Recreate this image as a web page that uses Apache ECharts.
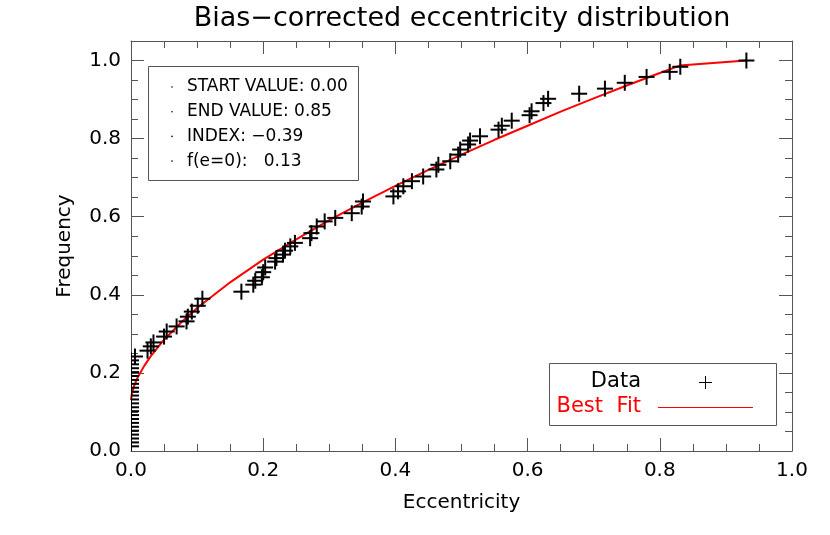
<!DOCTYPE html>
<html>
<head>
<meta charset="utf-8">
<script src="https://cdn.jsdelivr.net/npm/echarts@6/dist/echarts.min.js"></script>
<style>
  html, body { margin: 0; padding: 0; background: #fff; }
  #chart { width: 830px; height: 535px; }
</style>
</head>
<body>
<div id="chart"></div>
<script>
// crosses sitting on e = 0 (cumulative frequency values)
const zeroStackF = [0.012, 0.022, 0.032, 0.042, 0.052, 0.062, 0.072, 0.082, 0.092, 0.102,
  0.112, 0.122, 0.132, 0.142, 0.152, 0.162, 0.172, 0.182, 0.192, 0.202, 0.212, 0.222, 0.232];

// remaining observed points
const dataE = [0.006, 0.025, 0.030, 0.034, 0.050, 0.054, 0.069, 0.084, 0.086, 0.092, 0.101, 0.108,
  0.167, 0.185, 0.188, 0.198, 0.200, 0.203, 0.218, 0.220, 0.230, 0.233, 0.241, 0.248,
  0.271, 0.273, 0.281, 0.293, 0.309, 0.334, 0.349, 0.351, 0.397, 0.404, 0.412, 0.425,
  0.442, 0.462, 0.465, 0.483, 0.495, 0.498, 0.510, 0.513, 0.528, 0.556, 0.561, 0.576,
  0.603, 0.606, 0.624, 0.631, 0.678, 0.717, 0.747, 0.780, 0.815, 0.831, 0.931];
const dataF = [0.242, 0.257, 0.268, 0.278, 0.293, 0.306, 0.319, 0.332, 0.344, 0.357, 0.372, 0.390,
  0.408, 0.426, 0.436, 0.445, 0.458, 0.470, 0.485, 0.494, 0.503, 0.513, 0.524, 0.533,
  0.545, 0.558, 0.575, 0.588, 0.597, 0.609, 0.626, 0.639, 0.652, 0.665, 0.678, 0.691,
  0.703, 0.721, 0.733, 0.742, 0.759, 0.772, 0.785, 0.795, 0.806, 0.823, 0.833, 0.846,
  0.860, 0.870, 0.891, 0.902, 0.915, 0.928, 0.943, 0.958, 0.971, 0.984, 1.0];

// best-fit curve
const fitE = [0, 0.001, 0.0025, 0.005, 0.01, 0.02, 0.03, 0.05, 0.075, 0.1, 0.15, 0.2, 0.25, 0.3,
  0.35, 0.4, 0.45, 0.5, 0.55, 0.6, 0.65, 0.7, 0.75, 0.8, 0.83, 0.931];
const fitF = [0.13, 0.144, 0.155, 0.168, 0.188, 0.218, 0.243, 0.285, 0.328, 0.366, 0.432, 0.49, 0.542, 0.591,
  0.636, 0.679, 0.72, 0.759, 0.797, 0.833, 0.869, 0.903, 0.936, 0.968, 0.987, 1.0];

const statLines = ['START VALUE: 0.00', 'END VALUE: 0.85', 'INDEX: \u22120.39', 'f(e=0):   0.13'];

const FONT = 'DejaVu Sans';
const AXIS_COLOR = '#555';

const points = zeroStackF.map(f => [0, f]).concat(dataE.map((e, i) => [e, dataF[i]]));
const fitData = fitE.map((e, i) => [e, fitF[i]]);

const chart = echarts.init(document.getElementById('chart'), null, { renderer: 'canvas' });

const baseAxis = {
  min: 0,
  interval: 0.2,
  axisLine: { show: true, onZero: false, lineStyle: { color: AXIS_COLOR, width: 1 } },
  axisTick: { show: true, inside: true, length: 13, lineStyle: { color: AXIS_COLOR } },
  minorTick: { show: true, splitNumber: 4, length: 7, lineStyle: { color: AXIS_COLOR } },
  splitLine: { show: false },
  axisLabel: {
    color: '#000', fontFamily: FONT, fontSize: 20, margin: 10,
    formatter: v => v.toFixed(1)
  },
  nameTextStyle: { color: '#000', fontFamily: FONT, fontSize: 20 }
};

const crossItem = (params, api) => {
  const p = api.coord([api.value(0), api.value(1)]);
  const h = 8;
  const style = { stroke: '#000', lineWidth: 2 };
  return {
    type: 'group',
    children: [
      { type: 'line', shape: { x1: p[0] - h, y1: p[1], x2: p[0] + h, y2: p[1] }, style },
      { type: 'line', shape: { x1: p[0], y1: p[1] - h, x2: p[0], y2: p[1] + h }, style }
    ]
  };
};

const graphics = [
  {
    type: 'text', x: 462, y: 19,
    style: {
      text: 'Bias\u2212corrected eccentricity distribution', fill: '#000',
      font: '27px "DejaVu Sans"', textAlign: 'center', textVerticalAlign: 'middle'
    }
  },
  // stats box
  {
    type: 'rect', shape: { x: 148.5, y: 66.5, width: 210, height: 114 },
    style: { fill: '#fff', stroke: AXIS_COLOR, lineWidth: 1 }, z: 10
  },
  // legend box
  {
    type: 'rect', shape: { x: 549.5, y: 363.5, width: 227, height: 62 },
    style: { fill: '#fff', stroke: AXIS_COLOR, lineWidth: 1 }, z: 10
  },
  {
    type: 'text', x: 641, y: 382,
    style: { text: 'Data', fill: '#000', font: '21px "DejaVu Sans"', textAlign: 'right', textVerticalAlign: 'middle' },
    z: 11
  },
  {
    type: 'text', x: 641, y: 407,
    style: { text: 'Best  Fit', fill: '#ff0000', font: '21px "DejaVu Sans"', textAlign: 'right', textVerticalAlign: 'middle' },
    z: 11
  },
  { type: 'line', shape: { x1: 699, y1: 382.5, x2: 712, y2: 382.5 }, style: { stroke: '#000', lineWidth: 1 }, z: 11 },
  { type: 'line', shape: { x1: 705.5, y1: 376, x2: 705.5, y2: 389 }, style: { stroke: '#000', lineWidth: 1 }, z: 11 },
  { type: 'line', shape: { x1: 658, y1: 407.5, x2: 753, y2: 407.5 }, style: { stroke: '#ff0000', lineWidth: 1 }, z: 11 }
];

statLines.forEach((t, i) => {
  const y = 87 + i * 24.7;
  graphics.push({
    type: 'circle', shape: { cx: 172, cy: y, r: 0.8 }, style: { fill: '#000' }, z: 11
  });
  graphics.push({
    type: 'text', x: 187, y: y,
    style: { text: t, fill: '#000', font: '17px "DejaVu Sans"', textVerticalAlign: 'middle' },
    z: 11
  });
});

chart.setOption({
  animation: false,
  backgroundColor: '#fff',
  grid: { left: 131, right: 38, top: 41, bottom: 84, containLabel: false },
  xAxis: [
    Object.assign({}, baseAxis, {
      type: 'value', position: 'bottom', max: 1.0,
      name: 'Eccentricity', nameLocation: 'middle', nameGap: 42
    }),
    Object.assign({}, baseAxis, {
      type: 'value', position: 'top', max: 1.0,
      axisLabel: { show: false }
    })
  ],
  yAxis: [
    Object.assign({}, baseAxis, {
      type: 'value', position: 'left', max: 1.05,
      name: 'Frequency', nameLocation: 'middle', nameGap: 56,
      axisLabel: Object.assign({}, baseAxis.axisLabel, { showMaxLabel: false })
    }),
    Object.assign({}, baseAxis, {
      type: 'value', position: 'right', max: 1.05,
      axisLabel: { show: false }
    })
  ],
  series: [
    {
      name: 'Best Fit',
      type: 'line',
      data: fitData,
      showSymbol: false,
      symbol: 'none',
      lineStyle: { color: '#ff0000', width: 2 },
      z: 3
    },
    {
      name: 'Data',
      type: 'custom',
      data: points,
      renderItem: crossItem,
      clip: true,
      z: 4
    }
  ],
  graphic: graphics
});
</script>
</body>
</html>
